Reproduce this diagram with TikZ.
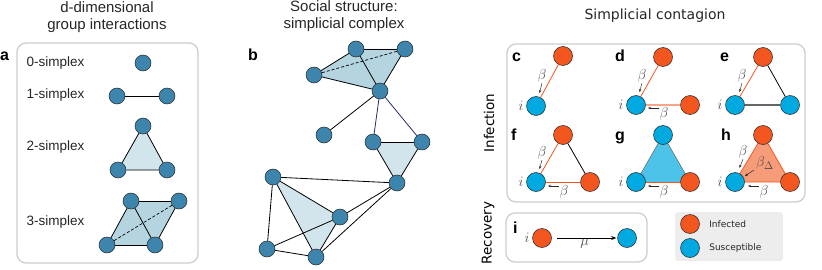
\documentclass[tikz,border=0pt]{standalone}
\usepackage{fontspec}
\setmainfont{Liberation Sans}
\newfontfamily\djv{DejaVu Sans}
\usepackage{amsmath}
\usetikzlibrary{arrows.meta,positioning,backgrounds}
\definecolor{simpblue}{RGB}{61,133,173}
\definecolor{simplight}{RGB}{211,229,236}
\definecolor{simpdark}{RGB}{180,213,224}
\definecolor{infcol}{RGB}{244,86,32}
\definecolor{suscol}{RGB}{0,169,224}
\definecolor{infsoft}{RGB}{247,165,137}
\definecolor{infpatch}{RGB}{247,156,120}
\definecolor{suspatch}{RGB}{78,195,234}
\definecolor{boxgray}{RGB}{205,205,205}
\definecolor{navyline}{RGB}{40,40,110}

\tikzset{
  vtx/.style={circle,draw=black!85,line width=0.5pt,fill=simpblue,minimum size=16pt,inner sep=0pt},
  infd/.style={circle,draw=black!85,line width=0.5pt,fill=infcol,minimum size=19pt,inner sep=0pt},
  susc/.style={circle,draw=black!85,line width=0.5pt,fill=suscol,minimum size=19pt,inner sep=0pt},
  panelbox/.style={draw=boxgray,line width=1.3pt,rounded corners=9pt},
  link/.style={line width=0.8pt},
  hidden/.style={line width=0.7pt,dash pattern=on 3pt off 2pt},
  ttl/.style={font=\fontsize{15}{16.5}\selectfont,align=center,text=black!85},
  simplab/.style={font=\fontsize{13.5}{15}\selectfont,anchor=west,text=black!85},
  lab/.style={font=\fontsize{16}{18}\selectfont\bfseries,anchor=base west,inner sep=0pt},
  rate/.style={text=black!70,font=\fontsize{15.5}{17}\selectfont,inner sep=0.5pt},
  sarr/.style={-{Stealth[length=3pt,width=2.4pt]},line width=0.45pt,black!85},
}

\begin{document}
\begin{tikzpicture}[x=1pt,y=-1pt]
  \useasboundingbox (0,0) rectangle (822,270);

  % titles
  \node[ttl] (ta) at (107,17) {d-dimensional\\group interactions};
  \node[ttl] (tb) at (344,16) {Social structure:\\simplicial complex};
  \node[ttl,font=\djv\fontsize{14}{16}\selectfont] (tc) at (655,16) {Simplicial contagion};

  % panel a
  \draw[panelbox] (17,43) rectangle (198,263);
  \node[lab] at (0,60) {a};
  \node[simplab] at (23,63) {0-simplex};
  \node[simplab] at (23,95) {1-simplex};
  \node[simplab] at (23,147) {2-simplex};
  \node[simplab] at (23,222) {3-simplex};
  \node[vtx] (s0) at (143,63) {};
  \node[vtx] (s1a) at (117,96) {};
  \node[vtx] (s1b) at (167,96) {};
  \node[vtx] (s2t) at (143,126) {};
  \node[vtx] (s2l) at (118,170) {};
  \node[vtx] (s2r) at (167,170) {};
  \node[vtx] (s3a) at (131,201) {};
  \node[vtx] (s3b) at (179,201) {};
  \node[vtx] (s3c) at (107,245) {};
  \node[vtx] (s3d) at (155,245) {};
  \begin{scope}[on background layer]
    \fill[simplight] (s2t.center) -- (s2l.center) -- (s2r.center) -- cycle;
    \fill[simpdark] (s3a.center) -- (s3b.center) -- (s3d.center) -- (s3c.center) -- cycle;
  \end{scope}
  \draw[link] (s1a) -- (s1b);
  \draw[link] (s2t) -- (s2l) (s2l) -- (s2r) (s2r) -- (s2t);
  \foreach \u/\v in {s3a/s3b,s3a/s3c,s3a/s3d,s3b/s3d,s3c/s3d}
    \draw[link] (\u) -- (\v);
  \draw[hidden] (s3c) -- (s3b);

  % panel b
  \node[lab] at (248,61) {b};
  \foreach \n/\x/\y in {1/356/49,2/405/49,3/314/75,4/380/91,5/324/135,6/373/142,
      7/422/142,8/397/183,9/273/177,10/340/217,11/267/249,12/316/257}
    \node[vtx] (n\n) at (\x,\y) {};
  \begin{scope}[on background layer]
    \fill[simpdark] (n3.center) -- (n1.center) -- (n2.center) -- (n4.center) -- cycle;
    \fill[simplight] (n6.center) -- (n7.center) -- (n8.center) -- cycle;
    \fill[simplight] (n9.center) -- (n10.center) -- (n12.center) -- cycle;
  \end{scope}
  \foreach \u/\v in {3/1,1/2,2/4,4/3,1/4,4/5,6/7,7/8,8/6,9/8,10/8,12/8,
      9/10,10/12,12/9,9/11,11/12,11/10}
    \draw[link] (n\u) -- (n\v);
  \draw[link,navyline] (n4) -- (n6) (n4) -- (n7);
  \draw[hidden] (n3) -- (n2);

  % panels c-h
  \node[rotate=90,font=\djv\fontsize{13.5}{15}\selectfont] (infection) at (489,123) {Infection};
  \draw[panelbox] (507,44) rectangle (805,202);

  % c
  \node[lab] at (512,62) {c};
  \node[infd] (ct) at (563,56) {};
  \node[susc] (ci) at (536,106) {};
  \node[rate,left=2pt of ci] {$i$};
  \draw[link,infcol] (ct) -- (ci);
  \node[rate] (cb) at (542,76) {$\beta$};
  \coordinate (cbt) at (539.5,93);
  \draw[sarr] (cb.south) -- (cbt);

  % d
  \node[lab] at (615,62) {d};
  \node[infd] (dt) at (663,57) {};
  \node[susc] (di) at (636,105) {};
  \node[infd] (dr) at (690,105) {};
  \node[rate,left=2pt of di] {$i$};
  \draw[link,infcol] (dt) -- (di);
  \draw[line width=2.5pt,infsoft] (di) -- (dr);
  \node[rate] (db) at (642,76) {$\beta$};
  \coordinate (dbt) at (639.5,92);
  \draw[sarr] (db.south) -- (dbt);
  \node[rate] (dbl) at (664,114) {$\beta$};
  \coordinate (dbls) at (659,108);
  \coordinate (dblt) at (648,108);
  \draw[sarr] (dbls) -- (dblt);

  % e
  \node[lab] at (720,62) {e};
  \node[infd] (et) at (763,57) {};
  \node[susc] (ei) at (735,105) {};
  \node[susc] (er) at (790,105) {};
  \node[rate,left=2pt of ei] {$i$};
  \draw[link,infcol] (et) -- (ei);
  \draw[link] (et) -- (er);
  \draw[line width=2.2pt,black!60] (ei) -- (er);
  \node[rate] (eb) at (742,76) {$\beta$};
  \coordinate (ebt) at (739.5,92);
  \draw[sarr] (eb.south) -- (ebt);

  % f
  \node[lab] at (511,140) {f};
  \node[infd] (ft) at (563,135) {};
  \node[susc] (fi) at (536,182) {};
  \node[infd] (fr) at (590,182) {};
  \node[rate,left=2pt of fi] {$i$};
  \draw[link,infcol] (ft) -- (fi);
  \draw[link] (ft) -- (fr);
  \draw[link,infcol] (fi) -- (fr);
  \node[rate] (fb) at (542,153) {$\beta$};
  \coordinate (fbt) at (539.5,169);
  \draw[sarr] (fb.south) -- (fbt);
  \node[rate] (fbl) at (564,192) {$\beta$};
  \coordinate (fbls) at (559,186);
  \coordinate (fblt) at (548,186);
  \draw[sarr] (fbls) -- (fblt);

  % g
  \node[lab] at (615,140) {g};
  \node[susc] (gt) at (663,135) {};
  \node[susc] (gi) at (636,182) {};
  \node[infd] (gr) at (690,182) {};
  \node[rate,left=2pt of gi] {$i$};
  \begin{scope}[on background layer]
    \fill[suspatch] (gt.center) -- (gi.center) -- (gr.center) -- cycle;
  \end{scope}
  \draw[line width=0.5pt,black!60] (gt) -- (gi) (gt) -- (gr);
  \draw[link,infcol] (gi) -- (gr);
  \node[rate] (gbl) at (664,192) {$\beta$};
  \coordinate (gbls) at (659,186);
  \coordinate (gblt) at (648,186);
  \draw[sarr] (gbls) -- (gblt);

  % h
  \node[lab] at (721,140) {h};
  \node[infd] (ht) at (763,135) {};
  \node[susc] (hi) at (735,182) {};
  \node[infd] (hr) at (790,182) {};
  \node[rate,left=2pt of hi] {$i$};
  \begin{scope}[on background layer]
    \fill[infpatch] (ht.center) -- (hi.center) -- (hr.center) -- cycle;
  \end{scope}
  \draw[link,infcol] (ht) -- (hi) (hi) -- (hr) (hr) -- (ht);
  \node[rate] (hb) at (743,152) {$\beta$};
  \coordinate (hbt) at (739.5,168);
  \draw[sarr] (hb.south) -- (hbt);
  \node[rate] (hbd) at (765,163) {$\beta_\Delta$};
  \coordinate (hbds) at (754,170);
  \coordinate (hbdt) at (745,176);
  \draw[sarr] (hbds) -- (hbdt);
  \node[rate] (hbl) at (764,192) {$\beta$};
  \coordinate (hbls) at (759,186);
  \coordinate (hblt) at (748,186);
  \draw[sarr] (hbls) -- (hblt);

  % panel i
  \node[rotate=90,font=\djv\fontsize{13.5}{15}\selectfont] (recovery) at (488,233) {Recovery};
  \draw[panelbox] (506,213) rectangle (647,262);
  \node[lab] at (513,233) {i};
  \node[infd] (ri) at (542,238) {};
  \node[susc] (rs) at (627,238) {};
  \node[rate,left=2pt of ri] {$i$};
  \draw[-{Stealth[length=5pt,width=4pt]},line width=0.7pt,shorten <=5pt,shorten >=1pt] (ri) -- (rs)
    node[rate,midway,below=0pt] {$\mu$};

  % legend
  \fill[black!7,rounded corners=3pt] (675,212) rectangle (783,261);
  \node[infd] (linf) at (690,224) {};
  \node[susc] (lsus) at (690,248) {};
  \node[right=6pt of linf,font=\djv\fontsize{9}{11}\selectfont,text=black!85] {Infected};
  \node[right=6pt of lsus,font=\djv\fontsize{9}{11}\selectfont,text=black!85] {Susceptible};
\end{tikzpicture}
\end{document}
